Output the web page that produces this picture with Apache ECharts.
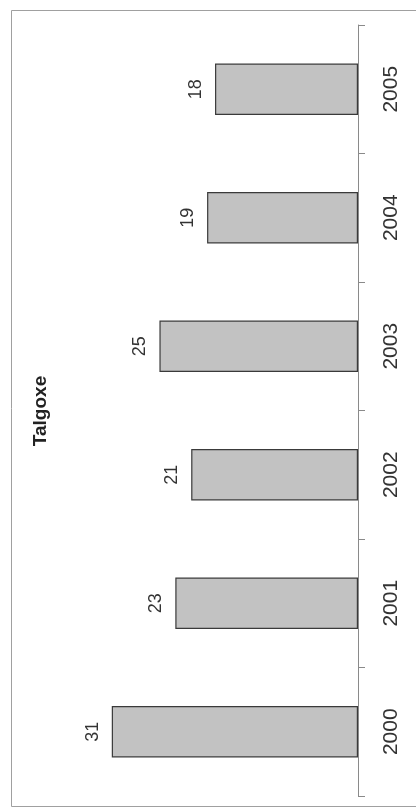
<!DOCTYPE html>
<html>
<head>
<meta charset="utf-8">
<script src="https://cdn.jsdelivr.net/npm/echarts@6/dist/echarts.min.js"></script>
<style>
html,body{margin:0;padding:0;background:#fff;}
#c{width:416px;height:808px;}
</style>
</head>
<body>
<div id="c"></div>
<script>
var titleText = 'Talgoxe';
var categories = ['2000', '2001', '2002', '2003', '2004', '2005'];
var values = [31, 23, 21, 25, 19, 18];

var FONT = '"Liberation Sans", Arial, sans-serif';
var chart = echarts.init(document.getElementById('c'), null, {renderer: 'canvas'});
chart.setOption({
  animation: false,
  backgroundColor: '#ffffff',
  grid: {left: 80, right: 58, top: 25, bottom: 12, containLabel: false},
  xAxis: {
    type: 'value', inverse: true, min: 0, max: 35,
    show: false, splitLine: {show: false}
  },
  yAxis: {
    type: 'category', data: categories, position: 'right',
    axisLine: {show: true, lineStyle: {color: '#8a8a8a', width: 1}},
    axisTick: {show: true, inside: false, length: 7, lineStyle: {color: '#8a8a8a'}},
    axisLabel: {rotate: 90, fontSize: 21, color: '#333', fontFamily: FONT, margin: 23}
  },
  series: [{
    type: 'bar',
    data: values,
    barWidth: '40%',
    itemStyle: {color: '#c2c2c2', borderColor: '#3a3a3a', borderWidth: 1.2},
    label: {
      show: true, position: 'left', rotate: 90, distance: 10,
      align: 'center', verticalAlign: 'bottom',
      fontSize: 18, color: '#333', fontFamily: FONT
    }
  }],
  graphic: [
    {type: 'rect', shape: {x: 11.5, y: 10.5, width: 430, height: 796}, style: {fill: 'none', stroke: '#a0a0a0', lineWidth: 1}, silent: true},
    {type: 'text', x: 41, y: 411, rotation: Math.PI / 2,
     style: {text: titleText, font: 'bold 19px ' + FONT, fill: '#222', textAlign: 'center', textVerticalAlign: 'middle'}}
  ]
});
</script>
</body>
</html>
